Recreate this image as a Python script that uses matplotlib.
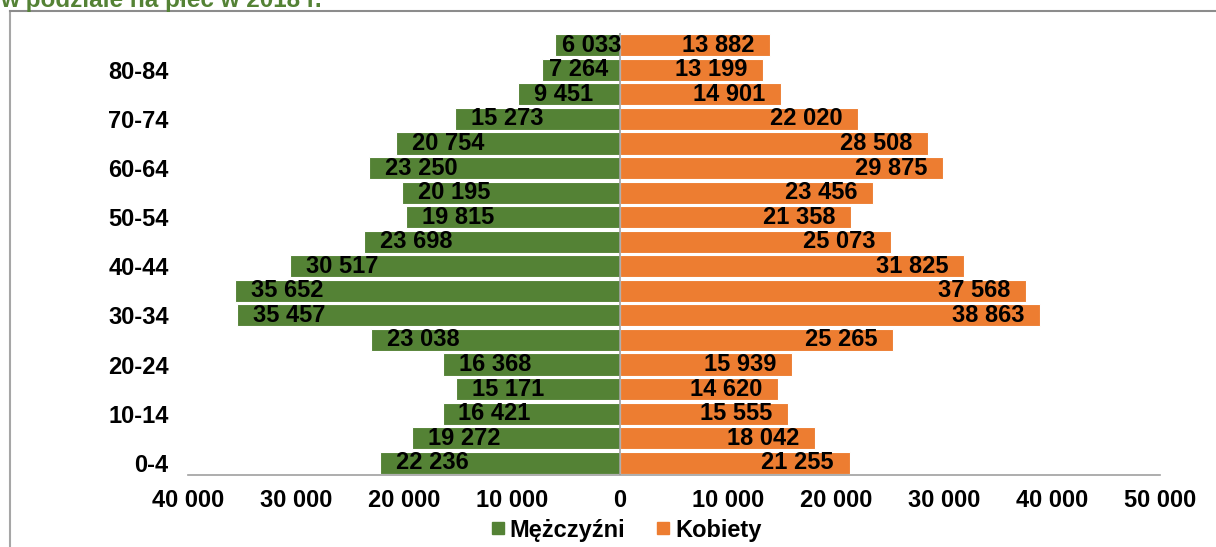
import matplotlib
matplotlib.use("Agg")
from matplotlib import pyplot as plt
from matplotlib.lines import Line2D
from matplotlib.ticker import FuncFormatter

plt.rcParams['font.family'] = ['Liberation Sans', 'DejaVu Sans']
plt.rcParams['font.weight'] = 'bold'

# Age groups, youngest first
age_groups = ["0-4", "5-9", "10-14", "15-19", "20-24", "25-29", "30-34", "35-39",
              "40-44", "45-49", "50-54", "55-59", "60-64", "65-69", "70-74",
              "75-79", "80-84", "85+"]
men = [22236, 19272, 16421, 15171, 16368, 23038, 35457, 35652, 30517,
       23698, 19815, 20195, 23250, 20754, 15273, 9451, 7264, 6033]
women = [21255, 18042, 15555, 14620, 15939, 25265, 38863, 37568, 31825,
         25073, 21358, 23456, 29875, 28508, 22020, 14901, 13199, 13882]

x_ticks = [-40000, -30000, -20000, -10000, 0, 10000, 20000, 30000, 40000, 50000]

GREEN = "#548235"
ORANGE = "#ED7D31"
GRID = "#A0A0A0"
FS = 17


def fmt_thousands(v):
    return f"{abs(int(v)):,}".replace(",", " ")


fig = plt.figure(figsize=(12.16, 5.47), dpi=100)
ax = fig.add_axes([188 / 1216, 1 - 475 / 547, 972 / 1216, 442 / 547])

pos = list(range(len(age_groups)))
ax.barh(pos, [-m for m in men], height=0.9, color=GREEN, edgecolor="white", linewidth=0.8)
ax.barh(pos, women, height=0.9, color=ORANGE, edgecolor="white", linewidth=0.8)

pad = 1450
for y, m, w in zip(pos, men, women):
    # short bars get a smaller inset so the label stays on the bar
    mpad = pad if m > 8000 else 700
    ax.text(-m + mpad, y, fmt_thousands(m), ha="left", va="center",
            fontsize=FS, fontweight="bold", color="black", zorder=4)
    ax.text(w - pad, y, fmt_thousands(w), ha="right", va="center",
            fontsize=FS, fontweight="bold", color="black", zorder=4)

ax.set_xlim(x_ticks[0], x_ticks[-1])
ax.set_ylim(-0.5, len(age_groups) - 0.5)
ax.set_xticks(x_ticks)
ax.xaxis.set_major_formatter(FuncFormatter(lambda v, p: fmt_thousands(v)))
ax.set_yticks(pos[::2])
ax.set_yticklabels(age_groups[::2])
ax.tick_params(axis="both", length=0, labelsize=FS)
ax.tick_params(axis="y", pad=14)
ax.tick_params(axis="x", pad=10)

for side in ["top", "right", "left"]:
    ax.spines[side].set_visible(False)
ax.spines["bottom"].set_color(GRID)
ax.spines["bottom"].set_linewidth(1.2)
ax.axvline(0, color=GRID, linewidth=1.2, zorder=3)

handles = [Line2D([], [], marker="s", linestyle="", color=GREEN, markersize=9),
           Line2D([], [], marker="s", linestyle="", color=ORANGE, markersize=9)]
fig.legend(handles, ["Mężczyźni", "Kobiety"], loc="center", bbox_to_anchor=(625 / 1216, 1 - 530 / 547),
           ncol=2, frameon=False, fontsize=FS, handletextpad=0.1, columnspacing=1.2,
           handlelength=0.8)

# frame around the chart area
fig.add_artist(Line2D([10 / 1216, 10 / 1216], [0, 1 - 11 / 547], color="#A6A6A6", linewidth=1.5))
fig.add_artist(Line2D([10 / 1216, 1], [1 - 11 / 547, 1 - 11 / 547], color="#8C8C8C", linewidth=1.5))

fig.text(0.0, 1 - 7 / 547, "w podziale na płeć w 2018 r.", color=GREEN, fontsize=17.5,
         fontweight="bold", ha="left", va="baseline")

fig.savefig("out.png", dpi=100)
